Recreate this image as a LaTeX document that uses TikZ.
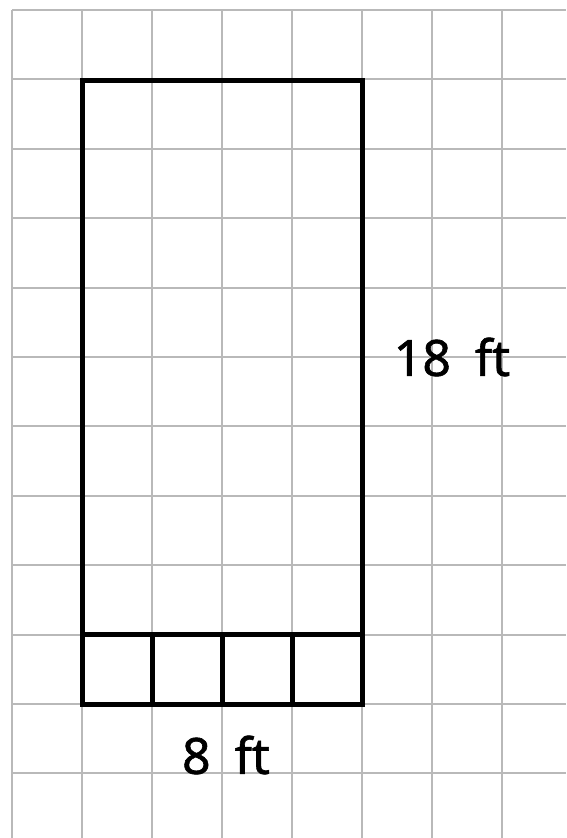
\documentclass[tikz,border=0pt]{standalone}
\usepackage{fontspec}
\setmainfont[FakeBold=1.2]{Noto Sans}
\usepackage{tikz}

\tikzset{
    gridline/.style={draw=gray!55, line width=2pt},
    wall/.style={draw, rectangle, line width=5pt},
    dimlabel/.style={font=\fontsize{50}{56}\bfseries, inner sep=0pt}
}

\begin{document}
\begin{tikzpicture}[x=1pt, y=-1pt]
    \useasboundingbox (0,0) rectangle (566,838);

    % Grid paper
    \foreach \i in {0,...,7}
        \draw [gridline] (12+70*\i,10) -- (12+70*\i,838);
    \foreach \j in {0,...,11}
        \draw [gridline] (12,10+69.4*\j) -- (566,10+69.4*\j);

    % Room outline
    \node [wall,
    minimum width=280pt,
    minimum height=624pt] (room) at (222,392) {};

    % Row of unit squares along the bottom
    \foreach \k in {1,...,4}
        \node [wall,
        minimum width=70pt,
        minimum height=69.4pt] (unit\k) at (47+70*\k,669.3) {};

    % Side lengths
    \node [dimlabel] (length) at (452,357) {18\hspace{24pt}ft};
    \node [dimlabel] (width) at (226,755) {8\hspace{24pt}ft};
\end{tikzpicture}
\end{document}
